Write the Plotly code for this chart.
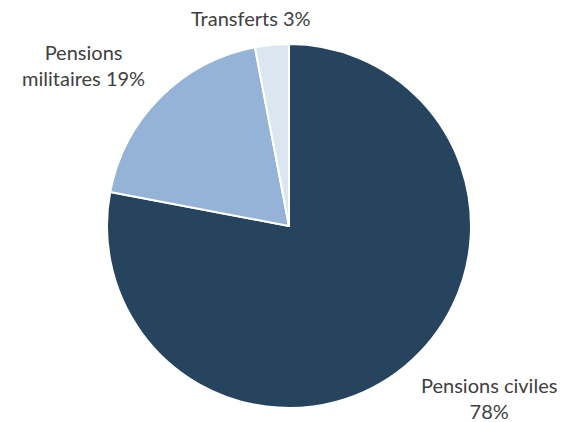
import plotly.graph_objects as go

# shares of spending
labels = ["Pensions civiles", "Pensions militaires", "Transferts"]
values = [78, 19, 3]
colors = ["#27445f", "#95b3d7", "#dce6f1"]

# label text as shown on the chart (line breaks where the original wraps)
label_text = [
    "Pensions civiles<br>%d%%" % values[0],
    "Pensions<br>militaires %d%%" % values[1],
    "Transferts %d%%" % values[2],
]
# where each label sits (paper coords, centre of text block)
label_pos = [(0.872, 0.058), (0.148, 0.846), (0.447, 0.957)]

fig = go.Figure()
fig.add_trace(go.Pie(
    labels=labels, values=values, sort=False, direction="clockwise", rotation=0,
    marker=dict(colors=colors, line=dict(color="white", width=2)),
    textinfo="none", hoverinfo="label+percent",
    domain=dict(x=[107/561, 471/561], y=[1-408/422, 1-44/422]),
    showlegend=False,
))

for txt, (x, y) in zip(label_text, label_pos):
    fig.add_annotation(x=x, y=y, xref="paper", yref="paper", text=txt,
                       showarrow=False, align="center",
                       xanchor="center", yanchor="middle",
                       font=dict(family="Lato", size=20, color="#404040"))

fig.update_layout(width=561, height=422, margin=dict(l=0, r=0, t=0, b=0),
                  paper_bgcolor="white", plot_bgcolor="white")
# drop the default page margin so the figure sits at the window's corner
fig.write_html("out.html", config={"displayModeBar": False},
               post_script="document.body.style.margin='0';")
